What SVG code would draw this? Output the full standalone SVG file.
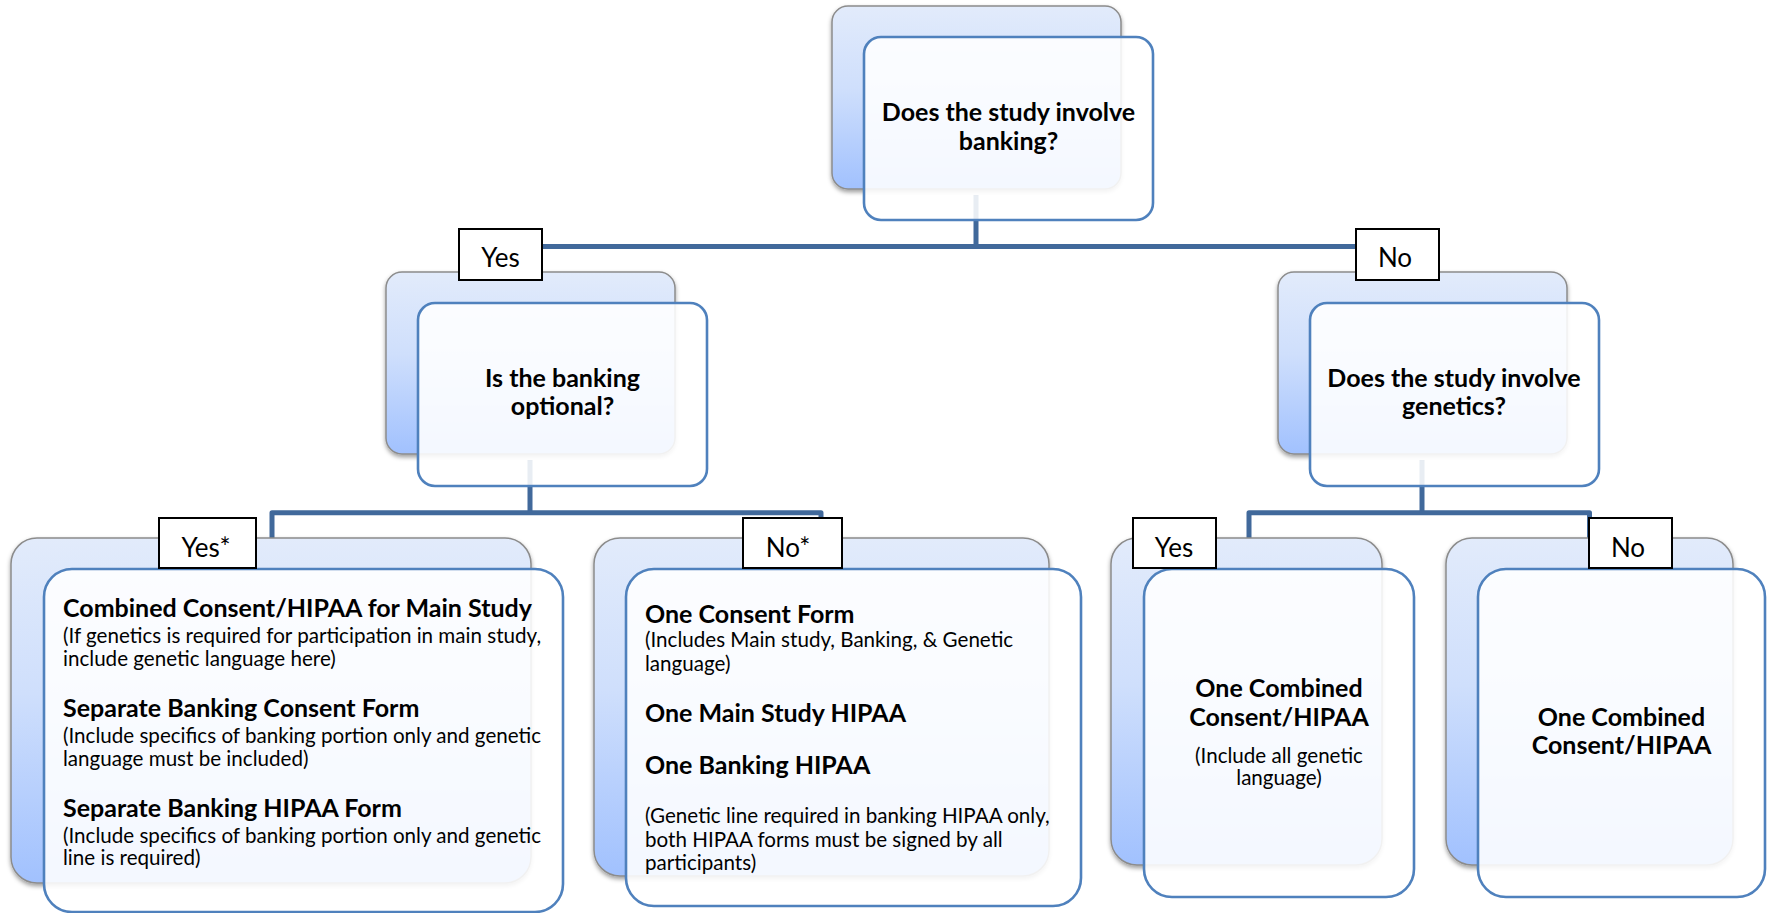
<svg xmlns="http://www.w3.org/2000/svg" width="1769" height="913" viewBox="0 0 1769 913">
<defs>
<linearGradient id="bg" x1="0" y1="0" x2="0" y2="1">
<stop offset="0" stop-color="#E2EBFB"/>
<stop offset="0.45" stop-color="#CFDFFC"/>
<stop offset="1" stop-color="#A1C1FE"/>
</linearGradient>
<filter id="sh" x="-10%" y="-10%" width="120%" height="125%">
<feDropShadow dx="0" dy="2.5" stdDeviation="2.2" flood-color="#000" flood-opacity="0.38"/>
</filter>
<style>
.back{fill:url(#bg);stroke:#8C8C8C;stroke-width:1.5;filter:url(#sh)}
.front{fill:#FFFFFF;fill-opacity:0.88;stroke:#4F81BD;stroke-width:2.6}
.conn{fill:none;stroke:#41699B;stroke-width:5;stroke-linejoin:round}
.lbl{fill:#FFFFFF;stroke:#000000;stroke-width:2}
text{font-family:Lato,"Open Sans",sans-serif;fill:#000000}
.h{font-weight:bold;font-size:25px}
.s{font-size:20.6px}
.lt{font-size:26px;text-anchor:middle}
.c{text-anchor:middle}
</style>
</defs>
<rect width="1769" height="913" fill="#FFFFFF"/>
<g id="connectors">
<path class="conn" d="M976,195 V246.5 H530 V278 M976,246.5 H1422 V278"/>
<path class="conn" d="M530,460 V512.7 H272 V545 M530,512.7 H821 V545"/>
<path class="conn" d="M1422,460 V512.7 H1249 V545 M1422,512.7 H1589.5 V545"/>
</g>
<g id="node-banking">
<rect class="back" x="832" y="6" width="289" height="183" rx="16"/>
<rect class="front" x="864" y="37" width="289" height="183" rx="17"/>
<text class="h c" x="1008.5" y="120.7">Does the study involve</text>
<text class="h c" x="1008.5" y="150">banking?</text>
</g>
<g id="node-optional">
<rect class="back" x="386" y="272" width="289" height="182" rx="16"/>
<rect class="front" x="418" y="303" width="289" height="183" rx="17"/>
<text class="h c" x="562.5" y="386.7">Is the banking</text>
<text class="h c" x="562.5" y="415">optional?</text>
</g>
<g id="node-genetics">
<rect class="back" x="1278" y="272" width="289" height="182" rx="16"/>
<rect class="front" x="1310" y="303" width="289" height="183" rx="17"/>
<text class="h c" x="1454" y="387.3">Does the study involve</text>
<text class="h c" x="1454" y="415">genetics?</text>
</g>
<g id="node-yes-optional">
<rect class="back" x="11" y="538" width="520" height="345" rx="26"/>
<rect class="front" x="44" y="569" width="519" height="343" rx="28"/>
<text class="h" x="63" y="616.7">Combined Consent/HIPAA for Main Study</text>
<text class="s" x="63" y="642.7">(If genetics is required for participation in main study,</text>
<text class="s" x="63" y="666">include genetic language here)</text>
<text class="h" x="63" y="716.7">Separate Banking Consent Form</text>
<text class="s" x="63" y="742.7">(Include specifics of banking portion only and genetic</text>
<text class="s" x="63" y="766">language must be included)</text>
<text class="h" x="63" y="816.7">Separate Banking HIPAA Form</text>
<text class="s" x="63" y="842.7">(Include specifics of banking portion only and genetic</text>
<text class="s" x="63" y="865">line is required)</text>
</g>
<g id="node-no-optional">
<rect class="back" x="594" y="538" width="455" height="338" rx="26"/>
<rect class="front" x="626" y="569" width="455" height="337" rx="28"/>
<text class="h" x="645" y="622.7">One Consent Form</text>
<text class="s" x="645" y="647.3">(Includes Main study, Banking, &amp; Genetic</text>
<text class="s" x="645" y="670.7">language)</text>
<text class="h" x="645" y="721.7">One Main Study HIPAA</text>
<text class="h" x="645" y="774">One Banking HIPAA</text>
<text class="s" x="645" y="822.7">(Genetic line required in banking HIPAA only,</text>
<text class="s" x="645" y="847.3">both HIPAA forms must be signed by all</text>
<text class="s" x="645" y="870">participants)</text>
</g>
<g id="node-yes-genetics">
<rect class="back" x="1111" y="538" width="271" height="327" rx="26"/>
<rect class="front" x="1144" y="569" width="270" height="328" rx="28"/>
<text class="h c" x="1279" y="696.7">One Combined</text>
<text class="h c" x="1279" y="726">Consent/HIPAA</text>
<text class="s c" x="1279" y="762.7">(Include all genetic</text>
<text class="s c" x="1279" y="785">language)</text>
</g>
<g id="node-no-genetics">
<rect class="back" x="1446" y="538" width="287" height="327" rx="26"/>
<rect class="front" x="1478" y="569" width="287" height="328" rx="28"/>
<text class="h c" x="1621.5" y="726">One Combined</text>
<text class="h c" x="1621.5" y="754.3">Consent/HIPAA</text>
</g>
<g id="label-yes-banking">
<rect class="lbl" x="459" y="229" width="83" height="51"/>
<text class="lt" x="500.5" y="267">Yes</text>
</g>
<g id="label-no-banking">
<rect class="lbl" x="1356" y="229" width="83" height="51"/>
<text class="lt" x="1395" y="267">No</text>
</g>
<g id="label-yes-optional">
<rect class="lbl" x="159" y="518" width="97" height="50"/>
<text class="lt" x="206" y="557">Yes*</text>
</g>
<g id="label-no-optional">
<rect class="lbl" x="743" y="518" width="99" height="50"/>
<text class="lt" x="788" y="557">No*</text>
</g>
<g id="label-yes-genetics">
<rect class="lbl" x="1133" y="518" width="83" height="50"/>
<text class="lt" x="1174" y="557">Yes</text>
</g>
<g id="label-no-genetics">
<rect class="lbl" x="1589" y="518" width="83" height="50"/>
<text class="lt" x="1628" y="557">No</text>
</g>
</svg>
